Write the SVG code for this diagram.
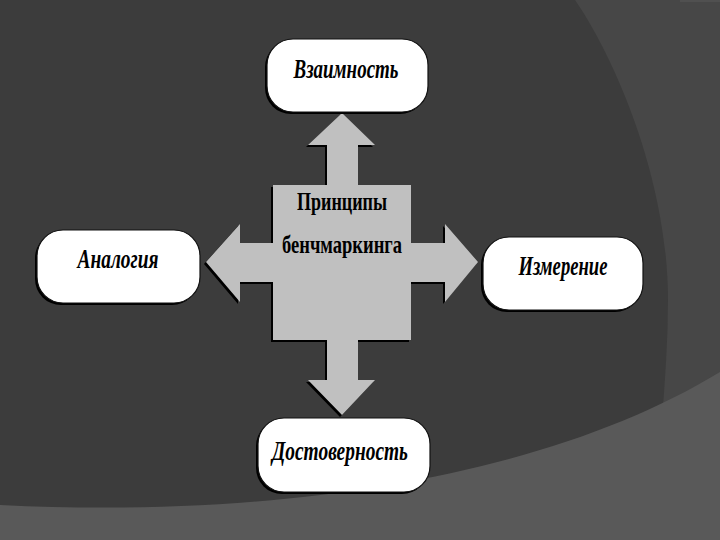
<svg xmlns="http://www.w3.org/2000/svg" width="720" height="540" viewBox="0 0 720 540">
  <style>
    .box { fill: #ffffff; stroke: #111111; stroke-width: 1.2; }
    .shadow { fill: #000000; }
    .arrow { fill: #c0c0c0; }
    .label { font-family: "Liberation Serif", "DejaVu Serif", serif; font-style: italic; font-weight: bold; font-size: 27px; fill: #000000; text-anchor: middle; }
    .title { font-family: "Liberation Serif", "DejaVu Serif", serif; font-weight: bold; font-size: 25px; fill: #000000; text-anchor: middle; }
  </style>

  <g id="background">
    <rect x="0" y="0" width="720" height="540" fill="#3c3c3c"/>
    <path d="M575,0 C615,58 668,180 668,300 C668,340 665,380 662,420 L720,420 L720,0 Z" fill="#474747"/>
    <rect x="680" y="0" width="40" height="2" fill="#505050"/>
    <path d="M0,505 C300,520 560,470 720,372 L720,540 L0,540 Z" fill="#595959"/>
  </g>

  <g id="connectors">
    <polygon class="shadow" transform="translate(-2,2)" points="342,113 375,145 358,145 358,185 411,185 411,243 445,243 445,224 478,262 445,302 445,282 411,282 411,340 358,340 358,380 375,380 342,415 308,380 327,380 327,340 273,340 273,282 240,282 240,302 206,262 240,224 240,243 273,243 273,185 327,185 327,145 308,145"/>
    <polygon class="arrow" points="342,113 375,145 358,145 358,190 327,190 327,145 308,145"/>
    <polygon class="arrow" points="327,335 358,335 358,380 375,380 342,415 308,380 327,380"/>
    <polygon class="arrow" points="278,243 240,243 240,224 206,262 240,302 240,282 278,282"/>
    <polygon class="arrow" points="406,243 445,243 445,224 478,262 445,302 445,282 406,282"/>
  </g>

  <g id="center">
    <rect class="arrow" x="273" y="185" width="138" height="155"/>
    <text class="title" x="342" y="210" textLength="90" lengthAdjust="spacingAndGlyphs">Принципы</text>
    <text class="title" x="342" y="253" textLength="120" lengthAdjust="spacingAndGlyphs">бенчмаркинга</text>
  </g>

  <g id="vzaimnost">
    <rect class="shadow" x="265" y="41" width="161" height="73" rx="26" ry="26"/>
    <rect class="box" x="267" y="39" width="161" height="73" rx="26" ry="26"/>
    <text class="label" x="346" y="78" textLength="105" lengthAdjust="spacingAndGlyphs">Взаимность</text>
  </g>

  <g id="analogiya">
    <rect class="shadow" x="35" y="232" width="163" height="73" rx="26" ry="26"/>
    <rect class="box" x="37" y="230" width="163" height="73" rx="26" ry="26"/>
    <text class="label" x="118" y="268" textLength="81" lengthAdjust="spacingAndGlyphs">Аналогия</text>
  </g>

  <g id="izmerenie">
    <rect class="shadow" x="481" y="239" width="160" height="73" rx="26" ry="26"/>
    <rect class="box" x="483" y="237" width="160" height="73" rx="26" ry="26"/>
    <text class="label" x="563" y="275" textLength="89" lengthAdjust="spacingAndGlyphs">Измерение</text>
  </g>

  <g id="dostovernost">
    <rect class="shadow" x="256" y="420" width="172" height="74" rx="26" ry="26"/>
    <rect class="box" x="258" y="418" width="172" height="74" rx="26" ry="26"/>
    <text class="label" x="340" y="460" textLength="136" lengthAdjust="spacingAndGlyphs">Достоверность</text>
  </g>
</svg>
